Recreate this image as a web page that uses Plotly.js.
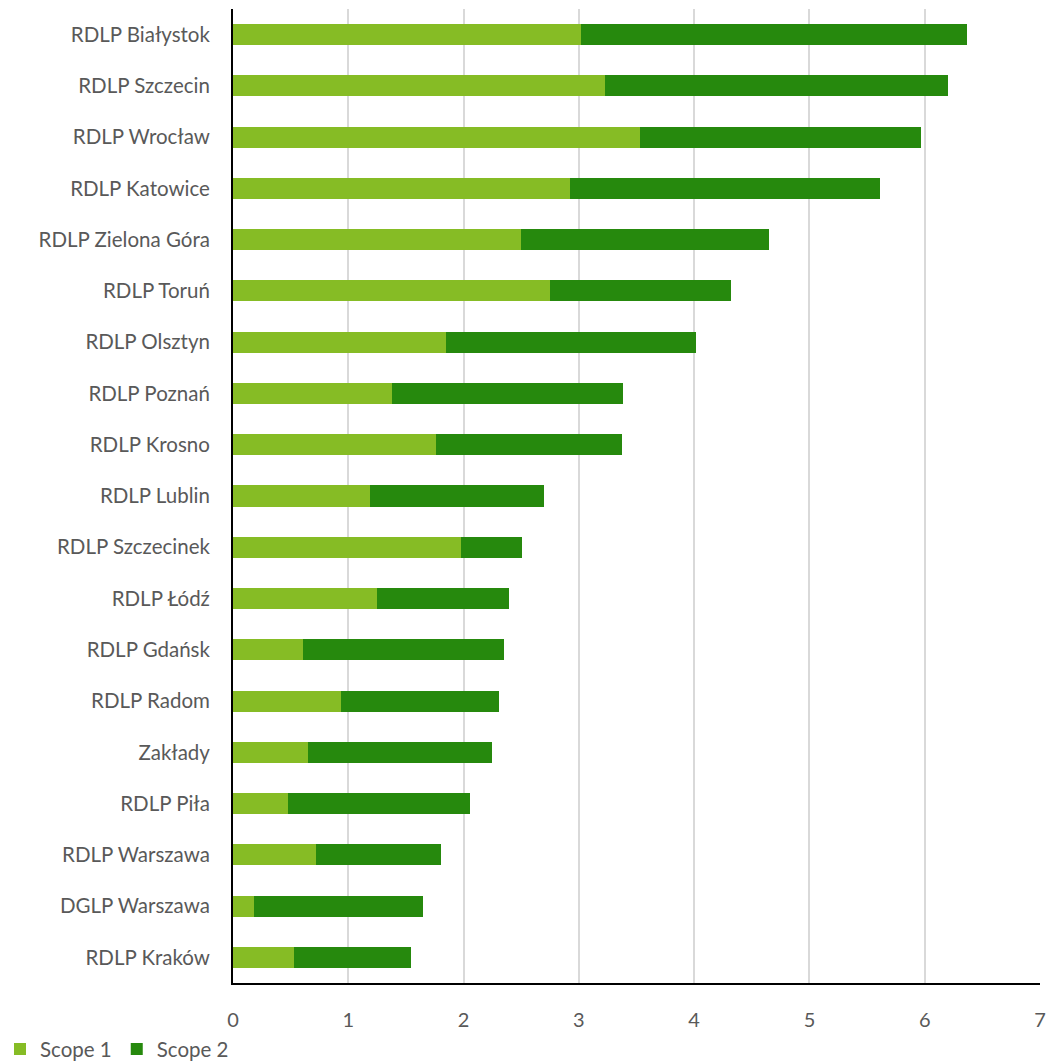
<!DOCTYPE html>
<html><head><meta charset="utf-8">
<script src="https://cdn.plot.ly/plotly-3.0.1.min.js"></script>
<style>html,body{margin:0;padding:0;background:#fff}#chart{width:1048px;height:1061px}</style>
</head><body><div id="chart"></div>
<script>
const categories = ["RDLP Białystok","RDLP Szczecin","RDLP Wrocław","RDLP Katowice","RDLP Zielona Góra","RDLP Toruń","RDLP Olsztyn","RDLP Poznań","RDLP Krosno","RDLP Lublin","RDLP Szczecinek","RDLP Łódź","RDLP Gdańsk","RDLP Radom","Zakłady","RDLP Piła","RDLP Warszawa","DGLP Warszawa","RDLP Kraków"];
const scope1 = [3.02,3.23,3.53,2.92,2.50,2.75,1.85,1.38,1.76,1.19,1.98,1.25,0.61,0.94,0.65,0.48,0.72,0.18,0.53];
const scope2 = [3.35,2.97,2.44,2.69,2.15,1.57,2.17,2.00,1.61,1.51,0.53,1.14,1.74,1.37,1.60,1.58,1.08,1.47,1.01];
const seriesNames = ["Scope 1","Scope 2"];
const xTicks = [0,1,2,3,4,5,6,7];

const font = {family:"Lato, 'Open Sans', sans-serif", size:20.5, color:"#595959"};
const data = [
  {type:"bar", orientation:"h", name:seriesNames[0], y:categories, x:scope1, marker:{color:"#86BC25"}, hoverinfo:"x+y"},
  {type:"bar", orientation:"h", name:seriesNames[1], y:categories, x:scope2, marker:{color:"#26890D"}, hoverinfo:"x+y"}
];
const layout = {
  width:1048, height:1061, barmode:"stack", bargap:0.59,
  margin:{l:233, r:8, t:9, b:78},
  paper_bgcolor:"#fff", plot_bgcolor:"#fff", font:font,
  xaxis:{range:[0,7], tickvals:xTicks, ticktext:xTicks.map(String), showgrid:true, gridcolor:"#D9D9D9", gridwidth:2,
         zeroline:false, showline:true, linecolor:"#000", linewidth:2, ticks:"", ticklabelstandoff:18,
         tickfont:{family:font.family, size:20, color:font.color}, fixedrange:true},
  yaxis:{autorange:"reversed", showgrid:false, zeroline:false, showline:true, linecolor:"#000", linewidth:2, ticks:"",
         ticklabelstandoff:17, tickfont:font, fixedrange:true},
  showlegend:true,
  legend:{orientation:"h", xref:"container", yref:"container", x:0, y:0.03, xanchor:"left", yanchor:"top",
          font:font, itemwidth:30, traceorder:"normal", tracegroupgap:0}
};
Plotly.newPlot("chart", data, layout, {displayModeBar:false});
</script></body></html>
